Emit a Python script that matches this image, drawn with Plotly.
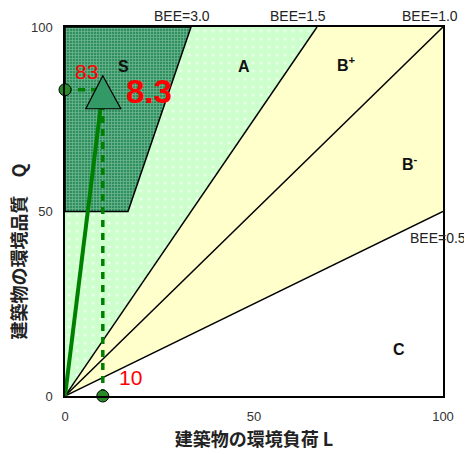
import plotly.graph_objects as go

# BEE chart (CASBEE style)
bee_levels = [3.0, 1.5, 1.0, 0.5]
bee_labels = ["BEE=3.0", "BEE=1.5", "BEE=1.0", "BEE=0.5"]
rank_labels = ["S", "A", "B<sup>+</sup>", "B<sup>-</sup>", "C"]
L_value = 10
Q_value = 83
bee_value = 8.3
axis_ticks = [0, 50, 100]
x_title = "建築物の環境負荷 L"
y_title = "建築物の環境品質　Q"

jp = "Noto Sans CJK JP"
latin = "Liberation Sans, Arial"

fig = go.Figure()

# region A (Q >= 1.5 L)
xa = [0, 100 / bee_levels[1], 0]
ya = [0, 100, 100]
fig.add_trace(go.Scatter(x=xa, y=ya, fill="toself", mode="lines", line=dict(width=0),
                         fillcolor="#ccffcc",
                         fillpattern=dict(shape=".", fgcolor="#ffffff", bgcolor="#ccffcc",
                                          size=8, solidity=0.15),
                         hoverinfo="skip", showlegend=False))

# region B (between BEE=1.5 and BEE=0.5)
xb = [0, 100, 100, 100 / bee_levels[1]]
yb = [0, 100 * bee_levels[3], 100, 100]
fig.add_trace(go.Scatter(x=xb, y=yb, fill="toself", mode="lines", line=dict(width=0),
                         fillcolor="#ffffcc", hoverinfo="skip", showlegend=False))

# region S (BEE>=3.0 and Q>=50)
xs = [0, 50 / bee_levels[0], 100 / bee_levels[0], 0]
ys = [50, 50, 100, 100]
fig.add_trace(go.Scatter(x=xs + [xs[0]], y=ys + [ys[0]], fill="toself", mode="lines",
                         line=dict(width=1.5, color="black"),
                         fillcolor="#339966",
                         fillpattern=dict(shape="+", fgcolor="#a8dcbc", bgcolor="#2f8f5f",
                                          size=3, solidity=0.45),
                         hoverinfo="skip", showlegend=False))

# BEE lines from origin
for b in bee_levels[1:]:
    xe = min(100, 100 / b)
    fig.add_trace(go.Scatter(x=[0, xe], y=[0, xe * b], mode="lines",
                             line=dict(color="black", width=1.5),
                             hoverinfo="skip", showlegend=False))

# result lines
fig.add_trace(go.Scatter(x=[L_value, L_value], y=[0, Q_value], mode="lines",
                         line=dict(color="#008000", width=3.5, dash="7px,6px"),
                         hoverinfo="skip", showlegend=False))
fig.add_trace(go.Scatter(x=[0, L_value], y=[Q_value, Q_value], mode="lines",
                         line=dict(color="#008000", width=3.5, dash="7px,6px"),
                         hoverinfo="skip", showlegend=False))
fig.add_trace(go.Scatter(x=[0, L_value], y=[0, Q_value], mode="lines",
                         line=dict(color="#008000", width=4),
                         hoverinfo="skip", showlegend=False))
fig.add_trace(go.Scatter(x=[0, L_value], y=[Q_value, 0], mode="markers", cliponaxis=False,
                         marker=dict(size=12, color="#2a8a2a", line=dict(color="black", width=1)),
                         hoverinfo="skip", showlegend=False))

# triangle marker at the result point (pixel path, y grows upward)
fig.add_shape(type="path", xref="x", yref="y", xsizemode="pixel", ysizemode="pixel",
              xanchor=L_value, yanchor=Q_value,
              path="M -17,-19 L 18,-19 L 0,14 Z",
              fillcolor="#339966", line=dict(color="black", width=1.2), layer="above")

# labels
ann = []
bee_pos = [(31.0, 1.03, "paper"), (61.6, 1.03, "paper"), (96.6, 1.03, "paper"), (98.6, 42.8, "y")]
for t, (x, y, yr) in zip(bee_labels, bee_pos):
    ann.append(dict(x=x, y=y, xref="x", yref=yr, yanchor="middle", text=t, showarrow=False,
                    font=dict(family=latin, size=14, color="#222")))
rank_pos = [(15.6, 89.4), (47.4, 89.4), (74.6, 90.0), (91.3, 63.1), (88.4, 12.5)]
for t, (x, y) in zip(rank_labels, rank_pos):
    ann.append(dict(x=x, y=y, text="<b>" + t + "</b>", showarrow=False,
                    font=dict(family=latin, size=16, color="#111")))
ann.append(dict(x=5.7, y=88.0, text=str(Q_value), showarrow=False,
                font=dict(family=latin, size=21, color="#ff0000")))
ann.append(dict(x=17.3, y=4.9, text=str(L_value), showarrow=False,
                font=dict(family=latin, size=21, color="#ff0000")))
ann.append(dict(x=22.1, y=82.4, text="<b>" + str(bee_value) + "</b>", showarrow=False,
                font=dict(family=latin, size=33, color="#ff0000")))
# y axis title sits a little below the middle of the axis
ann.append(dict(x=-0.123, y=39, xref="paper", yref="y", xanchor="center", yanchor="middle",
                textangle=-90, showarrow=False,
                text="<b>" + y_title + "</b>", font=dict(family=jp, size=18, color="#222")))

# page body keeps an 8px margin, so the figure is 8px smaller than the window
fig.update_layout(
    width=464, height=446,
    margin=dict(l=57, r=29, t=19, b=58),
    plot_bgcolor="white", paper_bgcolor="white",
    annotations=ann,
    showlegend=False,
)
fig.update_xaxes(range=[0, 100], tickvals=axis_ticks, showgrid=False, zeroline=False,
                 showline=True, mirror=True, linecolor="black", linewidth=1.5,
                 ticks="", ticklabelstandoff=8, automargin=False,
                 tickfont=dict(family=latin, size=13, color="#333"),
                 title=dict(text="<b>" + x_title + "</b>", standoff=10,
                            font=dict(family=jp, size=18, color="#222")))
fig.update_yaxes(range=[0, 100], tickvals=axis_ticks, showgrid=False, zeroline=False,
                 showline=True, mirror=True, linecolor="black", linewidth=1.5,
                 ticks="", ticklabelstandoff=8, automargin=False,
                 tickfont=dict(family=latin, size=13, color="#333"))

fig.write_html("out.html")
